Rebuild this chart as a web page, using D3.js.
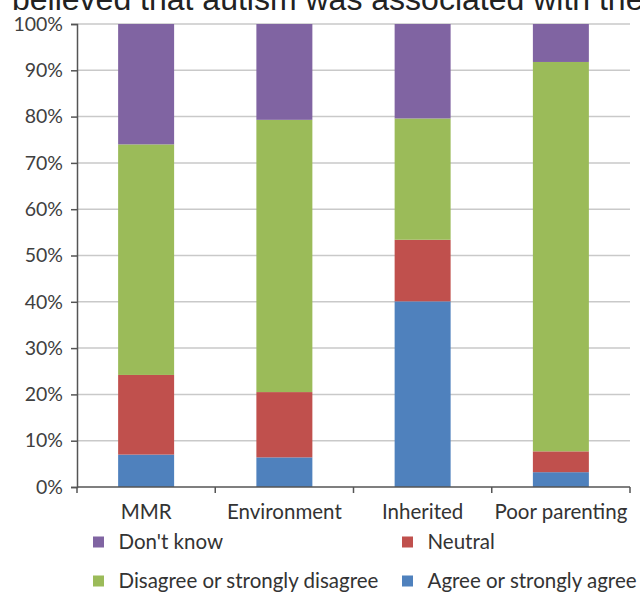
<!DOCTYPE html>
<html>
<head>
<meta charset="utf-8">
<script src="https://cdn.jsdelivr.net/npm/d3@7"></script>
<style>
  html, body { margin: 0; padding: 0; background: #fff; }
  svg { display: block; }
</style>
</head>
<body>
<svg id="chart" width="640" height="593"></svg>
<script>
// Beliefs about what autism is associated with (percent of respondents)
const categories = ["MMR", "Environment", "Inherited", "Poor parenting"];
const agree    = [7.0, 6.4, 40.1, 3.2];   // Agree or strongly agree
const neutral  = [17.2, 14.1, 13.3, 4.5]; // Neutral
const disagree = [49.8, 58.8, 26.2, 84.1]; // Disagree or strongly disagree
const dontKnow = [26.0, 20.7, 20.4, 8.2]; // Don't know
const yTicks = [0, 10, 20, 30, 40, 50, 60, 70, 80, 90, 100];
const titleText = "believed that autism was associated with the";

const seriesNames = ["Agree or strongly agree", "Neutral", "Disagree or strongly disagree", "Don't know"];
const seriesKeys = ["agree", "neutral", "disagree", "dontKnow"];
const colors = ["#4f81bd", "#c0504d", "#9bbb59", "#8064a2"];

const rows = categories.map((c, i) => ({
  category: c,
  agree: agree[i],
  neutral: neutral[i],
  disagree: disagree[i],
  dontKnow: dontKnow[i]
}));

const svg = d3.select("#chart");
const font = "Lato, 'Open Sans', sans-serif";

const x = d3.scaleBand().domain(categories).range([77, 630]).padding(0);
const y = d3.scaleLinear().domain([0, 100]).range([487, 24]);
const barFrac = 0.405;

// Caption line above the chart (runs past the top edge)
svg.append("text")
  .attr("x", 12).attr("y", 10)
  .attr("font-family", "'Liberation Sans', Arial, sans-serif")
  .attr("font-size", 32)
  .attr("fill", "#222")
  .text(titleText);

// Horizontal gridlines
svg.append("g").selectAll("line").data(yTicks.filter(t => t > 0)).join("line")
  .attr("x1", 77).attr("x2", 630)
  .attr("y1", d => y(d)).attr("y2", d => y(d))
  .attr("stroke", "#c9c9c9").attr("stroke-width", 1.5);

// Stacked bars
const stack = d3.stack().keys(seriesKeys)(rows);
const bw = x.bandwidth() * barFrac;
svg.append("g").selectAll("g").data(stack).join("g")
  .attr("fill", (d, i) => colors[i])
  .selectAll("rect").data(d => d).join("rect")
  .attr("x", d => x(d.data.category) + (x.bandwidth() - bw) / 2)
  .attr("width", bw)
  .attr("y", d => y(d[1]))
  .attr("height", d => y(d[0]) - y(d[1]));

// Y axis
const yAxis = d3.axisLeft(y).tickValues(yTicks).tickFormat(d => d + "%").tickSize(6).tickPadding(8);
const gy = svg.append("g").attr("transform", "translate(77,0)").call(yAxis);
gy.select(".domain").attr("stroke", "#555").attr("stroke-width", 1.5);
gy.selectAll(".tick line").attr("stroke", "#555").attr("stroke-width", 1.5);
gy.selectAll(".tick text")
  .attr("font-family", font).attr("font-size", 19.5).attr("fill", "#404040");

// X axis with tick marks at band boundaries
const gx = svg.append("g").attr("transform", "translate(0,487)");
gx.append("line").attr("x1", 77).attr("x2", 630).attr("y1", 0).attr("y2", 0)
  .attr("stroke", "#555").attr("stroke-width", 1.5);
const boundaries = categories.map(c => x(c)).concat([x.range()[1]]);
gx.selectAll("line.tk").data(boundaries).join("line").attr("class", "tk")
  .attr("x1", d => d).attr("x2", d => d).attr("y1", 0).attr("y2", 6)
  .attr("stroke", "#555").attr("stroke-width", 1.5);
gx.selectAll("text").data(categories).join("text")
  .attr("x", d => x(d) + x.bandwidth() / 2)
  .attr("y", 32)
  .attr("text-anchor", "middle")
  .attr("font-family", font).attr("font-size", 20.5).attr("fill", "#333")
  .text(d => d);

// Legend: two columns, two rows
const legendItems = [
  { name: seriesNames[3], color: colors[3], col: 0, row: 0 },
  { name: seriesNames[1], color: colors[1], col: 1, row: 0 },
  { name: seriesNames[2], color: colors[2], col: 0, row: 1 },
  { name: seriesNames[0], color: colors[0], col: 1, row: 1 }
];
const colX = [93, 402];
const rowY = [542, 581];
const lg = svg.append("g").selectAll("g").data(legendItems).join("g")
  .attr("transform", d => `translate(${colX[d.col]},${rowY[d.row]})`);
lg.append("rect").attr("x", 0).attr("y", -5.5).attr("width", 11).attr("height", 11)
  .attr("fill", d => d.color);
lg.append("text").attr("x", 25.5).attr("y", 7)
  .attr("font-family", font).attr("font-size", 20.5).attr("fill", "#333")
  .text(d => d.name);
</script>
</body>
</html>
